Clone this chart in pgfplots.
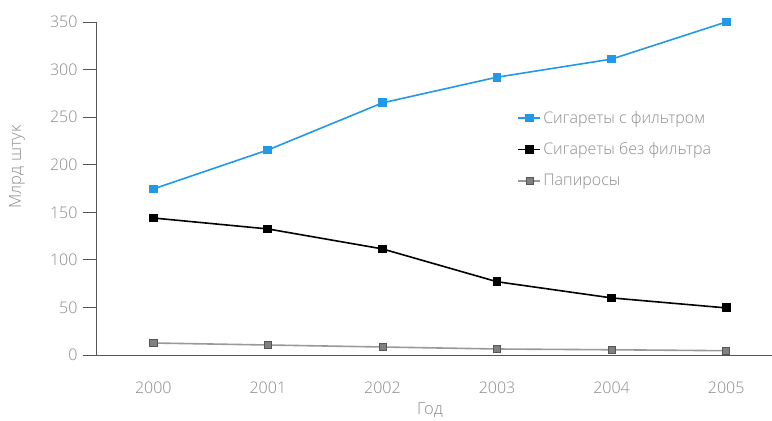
\documentclass[border=0pt]{standalone}
\usepackage{fontspec}
\setmainfont{Open Sans}[UprightFont=* Light]
\usepackage{pgfplots}
\pgfplotsset{compat=1.18}
\definecolor{txtgray}{HTML}{8C8C8C}
\definecolor{axgray}{HTML}{555555}
\definecolor{filt}{HTML}{2199E8}
\definecolor{papgray}{HTML}{999999}
\begin{document}
\begin{tikzpicture}
\begin{axis}[
  scale only axis,
  width=676pt, height=333pt,
  xmin=-0.5, xmax=5.4,
  ymin=0, ymax=350,
  axis x line*=bottom, axis y line*=left,
  axis line style={-, axgray, line width=0.9pt},
  xtick={0,1,2,3,4,5},
  xticklabels={2000,2001,2002,2003,2004,2005},
  x tick style={draw=none},
  extra x ticks={-0.5,0.5,1.5,2.5,3.5,4.5},
  extra x tick labels={},
  extra x tick style={tick style={draw=axgray, line width=0.9pt}, major tick length=8pt, tick align=outside},
  ytick={0,50,...,350},
  y tick style={axgray, line width=0.9pt},
  major tick length=13pt, tick align=outside,
  /pgf/number format/assume math mode=true,
  ticklabel style={font=\fontsize{16}{19}\selectfont, text=txtgray},
  xticklabel style={yshift=-10pt},
  yticklabel style={xshift=-2pt},
  xlabel={Год}, ylabel={Млрд штук},
  label style={font=\fontsize{16.5}{19}\selectfont, text=txtgray},
  xlabel style={at={(ticklabel* cs:0.494)}, anchor=center, yshift=-55pt},
  ylabel style={at={(ticklabel* cs:0.565)}, anchor=center, rotate=0, yshift=79pt},
  legend style={at={(0.619,0.745)}, anchor=north west, draw=none, fill=none,
    font=\fontsize{16}{19}\selectfont, text=txtgray, row sep=14pt,
    /tikz/every even column/.append style={column sep=8pt}},
  legend cell align=left,
  legend image code/.code={\draw[mark repeat=2, mark phase=2] plot coordinates {(0pt,0pt) (11pt,0pt) (22pt,0pt)};},
  every axis plot/.append style={line width=1.6pt, mark=square*, mark size=3.6pt},
]
\addplot[filt, mark options={fill=filt, draw=filt}] coordinates {
  (0,174.5) (1,215.5) (2,265) (3,292) (4,311) (5,350)};
\addplot[black, mark options={fill=black}] coordinates {
  (0,144) (1,132.5) (2,111.5) (3,77) (4,60) (5,49.5)};
\addplot[papgray, mark options={fill=gray, draw=axgray, line width=0.6pt}] coordinates {
  (0,12.6) (1,10.5) (2,8.4) (3,6.3) (4,5.5) (5,4.5)};
\legend{Сигареты с фильтром, Сигареты без фильтра, Папиросы}
\draw[axgray, line width=0.9pt] (axis cs:-0.5,0) -- ++(-8pt,0);
\end{axis}
\pgfresetboundingbox
\path[use as bounding box] ([shift={(-96pt,-66pt)}]current axis.south west) rectangle ([shift={(0pt,22pt)}]current axis.north east);
\end{tikzpicture}
\end{document}
